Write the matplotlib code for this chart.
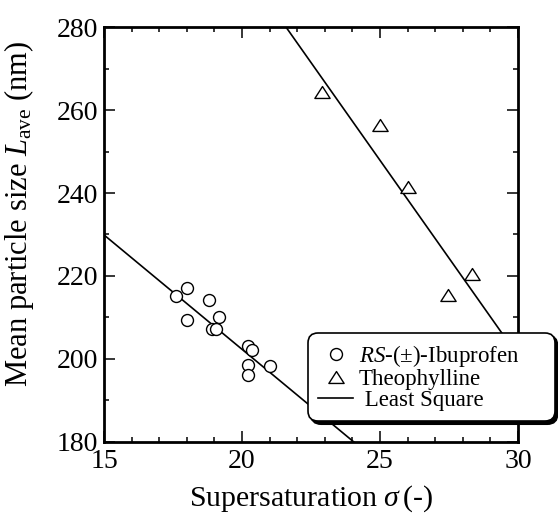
import matplotlib
matplotlib.use("Agg")
import matplotlib.pyplot as plt
from matplotlib.path import Path
from matplotlib.ticker import MultipleLocator
import numpy as np

plt.rcParams['font.family'] = ['Liberation Serif', 'DejaVu Serif']
plt.rcParams['mathtext.fontset'] = 'custom'
plt.rcParams['mathtext.rm'] = 'Liberation Serif'
plt.rcParams['mathtext.it'] = 'Liberation Serif:italic'
plt.rcParams['mathtext.bf'] = 'Liberation Serif:bold'

# ---- data ----
ibu_sigma = [17.6, 18.0, 18.0, 18.8, 19.15, 18.9, 19.05, 20.2, 20.35, 20.2, 20.2, 21.0]
ibu_size = [215.2, 217.2, 209.3, 214.2, 210.1, 207.2, 207.2, 203.1, 202.1, 198.4, 196.2, 198.2]

theo_sigma = [22.9, 25.0, 26.0, 27.45, 28.35]
theo_size = [264.5, 256.5, 241.5, 215.3, 220.5]

# least-square lines (slope, intercept)
ibu_fit = [-5.52, 312.7]
theo_fit = [-9.44, 483.9]

x_ticks = [15, 20, 25, 30]
y_ticks = [180, 200, 220, 240, 260, 280]

fig = plt.figure(figsize=(5.58, 5.15), dpi=100)
ax = fig.add_axes([104/558, 1-441.7/515, 414/558, 414.4/515])

xl = np.array([15.0, 30.0])
ax.plot(xl, np.polyval(ibu_fit, xl), color='black', lw=1.2, zorder=2, label=' Least Square')
ax.plot(xl, np.polyval(theo_fit, xl), color='black', lw=1.2, zorder=2)

tri = Path([(-1, -0.78), (1, -0.78), (0, 0.78), (-1, -0.78)],
           [Path.MOVETO, Path.LINETO, Path.LINETO, Path.CLOSEPOLY])

h1, = ax.plot(ibu_sigma, ibu_size, ls='none', marker='o', ms=8.6, mfc='white',
              mec='black', mew=1.0, zorder=3, label=r'$\mathit{RS}$-(±)-Ibuprofen')
h2, = ax.plot(theo_sigma, theo_size, ls='none', marker=tri, ms=11, mfc='white',
              mec='black', mew=1.0, zorder=3, label='Theophylline')

ax.set_xlim(15, 30)
ax.set_ylim(180, 280)
ax.set_xticks(x_ticks)
ax.set_yticks(y_ticks)
ax.xaxis.set_minor_locator(MultipleLocator(1))
ax.yaxis.set_minor_locator(MultipleLocator(10))
ax.tick_params(which='both', direction='in', top=True, right=True, width=1.1)
ax.tick_params(which='major', length=8, labelsize=20)
ax.tick_params(which='minor', length=3.6)
ax.tick_params(axis='x', which='major', pad=5)
ax.tick_params(axis='y', which='major', pad=4)
for s in ax.spines.values():
    s.set_linewidth(2.0)

ax.set_xlabel(r'Supersaturation $\sigma\,$(-)', fontsize=21.5, labelpad=7)
ax.set_ylabel(r'Mean particle size $L_{\mathrm{ave}}$ (nm)', fontsize=22)
ax.yaxis.set_label_coords(-0.165, 0.55)

handles, labels = ax.get_legend_handles_labels()
order = [1, 2, 0]
leg = ax.legend([handles[i] for i in order], [labels[i] for i in order],
                loc='upper left', bbox_to_anchor=(0.493, 0.263, 0.596, 0.0),
                mode='expand', borderaxespad=0, fontsize=16.5, handlelength=1.5,
                handletextpad=0.25, labelspacing=0.0, borderpad=0.45,
                fancybox=True, framealpha=1, edgecolor='black',
                shadow={'color': 'black', 'alpha': 1})
leg.get_frame().set_linewidth(1.2)
leg.get_frame().set_boxstyle('round', pad=0, rounding_size=0.45)
leg.set_zorder(5)

fig.savefig('out.png', dpi=100)
